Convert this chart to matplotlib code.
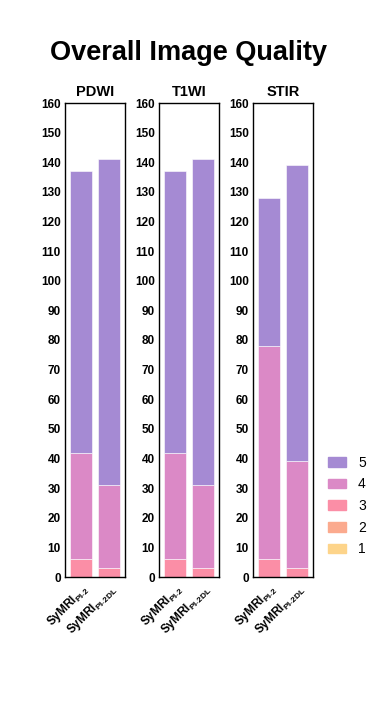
import numpy as np
import matplotlib
matplotlib.use("Agg")
import matplotlib.pyplot as plt
from matplotlib.patches import Patch

plt.rcParams['font.family'] = ['Liberation Sans', 'DejaVu Sans']
plt.rcParams['mathtext.fontset'] = 'custom'
plt.rcParams['mathtext.rm'] = 'Liberation Sans'
plt.rcParams['mathtext.default'] = 'regular'

panels = ['PDWI', 'T1WI', 'STIR']
methods = [r'SyMRI$_{PI\text{-}2}$', r'SyMRI$_{PI\text{-}2DL}$']
scores = ['1', '2', '3', '4', '5']
colors = ['#fdd48a', '#fbaa8e', '#fb8ea6', '#db89c6', '#a58ad3']

# counts per score (1..5) for [PI-2, PI-2DL]
pdwi = [[0, 0], [0, 0], [6, 3], [36, 28], [95, 110]]
t1wi = [[0, 0], [0, 0], [6, 3], [36, 28], [95, 110]]
stir = [[0, 0], [0, 0], [6, 3], [72, 36], [50, 100]]
data = [pdwi, t1wi, stir]

fig = plt.figure(figsize=(3.78, 7.2), dpi=100)
fig.text(0.5, 1 - 53 / 720, 'Overall Image Quality', ha='center', va='center',
         fontsize=19.5, fontweight='bold')

lefts = [65, 159, 253]
x = np.arange(len(methods))
for i, name in enumerate(panels):
    ax = fig.add_axes([lefts[i] / 378, 1 - 577 / 720, 60 / 378, (577 - 103) / 720])
    bottom = np.zeros(len(methods))
    for s, c in zip(data[i], colors):
        ax.bar(x, s, 0.8, bottom=bottom, color=c, edgecolor='white', linewidth=0.4)
        bottom += np.array(s)
    ax.set_xlim(-0.6, 1.6)
    ax.set_ylim(0, 160)
    ax.set_yticks(np.arange(0, 161, 10))
    ax.set_xticks(x)
    ax.set_xticklabels(methods, rotation=45, ha='right', rotation_mode='anchor',
                       fontsize=8.5, fontweight='bold')
    ax.tick_params(length=0, pad=3)
    ax.tick_params(axis='y', labelsize=8.5)
    for t in ax.get_yticklabels():
        t.set_fontweight('bold')
    for sp in ax.spines.values():
        sp.set_linewidth(1.0)
    ax.set_title(name, fontsize=10.5, fontweight='bold', pad=5)

handles = [Patch(color=c) for c in colors[::-1]]
fig.legend(handles, scores[::-1], loc='center left', bbox_to_anchor=(315 / 378, 1 - 506 / 720),
           frameon=False, fontsize=10, handlelength=1.3, handleheight=0.7,
           labelspacing=0.55, handletextpad=0.9)

fig.savefig('out.png', dpi=100)
